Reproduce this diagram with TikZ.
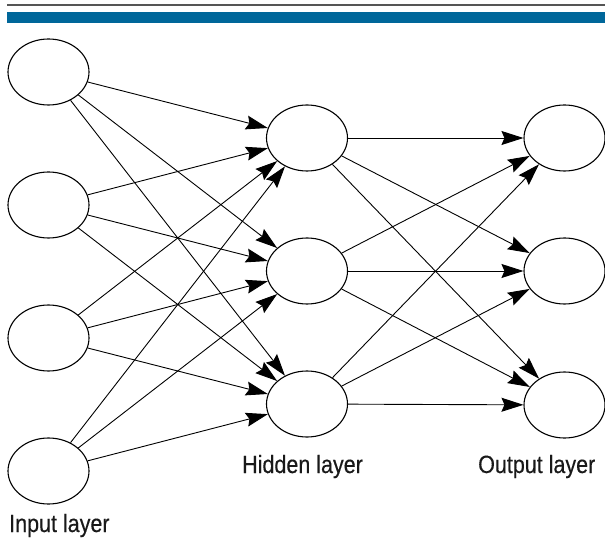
\documentclass[tikz,border=0pt]{standalone}
\usepackage{fontspec}
\setmainfont{Liberation Sans}[FakeStretch=0.86,FakeBold=0.35]
\usetikzlibrary{shapes.geometric,arrows.meta}
\definecolor{barblue}{HTML}{00679A}
\definecolor{rulegray}{HTML}{555555}
\tikzset{
  neuron/.style={ellipse, draw=black, line width=1.1pt, fill=white,
    minimum width=81pt, minimum height=66pt, inner sep=0pt},
  tip/.tip={Stealth[length=22pt,width=14pt,inset=3pt]},
  link/.style={line width=0.9pt, -tip},
  layerlabel/.style={anchor=base west, inner sep=0pt,
    font=\fontsize{25}{29}\selectfont, text=black!90}
}
\begin{document}
\begin{tikzpicture}[x=1pt,y=1pt]
  \useasboundingbox (0,0) rectangle (605,-545);
  % header rule and bar
  \fill[rulegray] (7,-4.4) rectangle (605,-5.8);
  \fill[barblue] (7,-12) rectangle (605,-23.5);

  % input layer
  \node[neuron] (i1) at (48.5,-72) {};
  \node[neuron] (i2) at (48.5,-205) {};
  \node[neuron] (i3) at (48.5,-338) {};
  \node[neuron] (i4) at (48.5,-471) {};
  % hidden layer
  \node[neuron] (h1) at (307,-138) {};
  \node[neuron] (h2) at (307,-271) {};
  \node[neuron] (h3) at (307,-404) {};
  % output layer
  \node[neuron] (o1) at (564.5,-138) {};
  \node[neuron] (o2) at (564.5,-271) {};
  \node[neuron] (o3) at (564.5,-405) {};

  % connections
  \foreach \i in {1,...,4}
    \foreach \h in {1,2,3}
      \draw[link] (i\i) -- (h\h);
  \foreach \h in {1,2,3}
    \foreach \o in {1,2,3}
      \draw[link] (h\h) -- (o\o);

  % labels
  \node[layerlabel] (linput) at (9,-532) {Input layer};
  \node[layerlabel] (lhidden) at (242,-473) {Hidden layer};
  \node[layerlabel] (loutput) at (478,-473) {Output layer};
\end{tikzpicture}
\end{document}
